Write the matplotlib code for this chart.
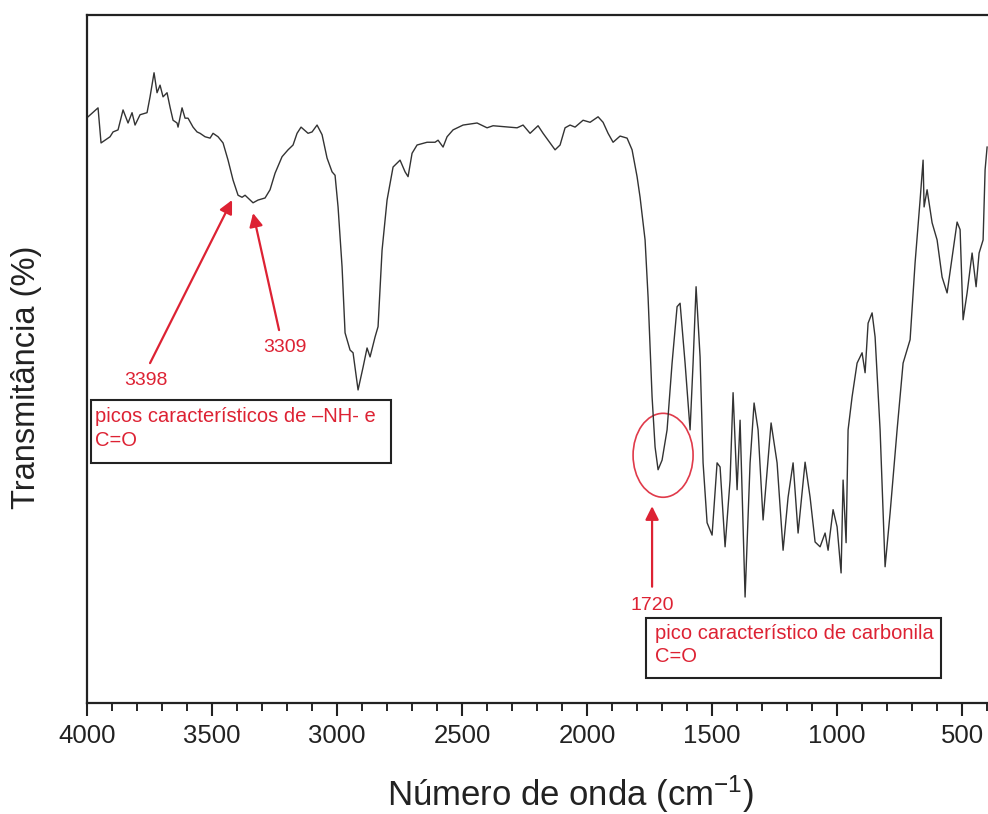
import matplotlib
matplotlib.use("Agg")
import matplotlib.pyplot as plt
from matplotlib.patches import Ellipse, Rectangle
from matplotlib.ticker import MultipleLocator

plt.rcParams['font.family'] = ['Liberation Sans', 'DejaVu Sans']
plt.rcParams['mathtext.default'] = 'regular'

# FTIR spectrum (wavenumber in cm-1, transmittance in %)
wavenumber = [3996, 3956, 3944, 3928, 3908, 3896, 3876, 3856, 3836, 3820, 3808, 3788,
              3760, 3748, 3732, 3720, 3708, 3696, 3680, 3668, 3656, 3640, 3636, 3620,
              3608, 3596, 3576, 3560, 3548, 3528, 3508, 3496, 3476, 3456, 3436, 3416,
              3396, 3380, 3368, 3348, 3336, 3316, 3288, 3268, 3248, 3220, 3196, 3176,
              3160, 3144, 3116, 3100, 3080, 3060, 3040, 3020, 3008, 2996, 2980, 2968,
              2948, 2936, 2916, 2896, 2880, 2868, 2848, 2836, 2820, 2800, 2776, 2748,
              2728, 2716, 2700, 2680, 2640, 2608, 2596, 2576, 2560, 2536, 2496, 2440,
              2400, 2376, 2280, 2256, 2228, 2196, 2176, 2148, 2128, 2108, 2088, 2068,
              2048, 2016, 1988, 1956, 1936, 1916, 1896, 1868, 1840, 1820, 1800, 1788,
              1768, 1756, 1740, 1728, 1716, 1700, 1680, 1660, 1640, 1628, 1608, 1588,
              1576, 1564, 1548, 1536, 1520, 1500, 1480, 1468, 1448, 1428, 1416, 1400,
              1388, 1368, 1348, 1332, 1316, 1296, 1264, 1240, 1216, 1196, 1176, 1156,
              1128, 1108, 1088, 1068, 1048, 1036, 1016, 1000, 984, 976, 964, 956,
              940, 920, 900, 888, 876, 860, 848, 828, 808, 788, 760, 736,
              708, 688, 668, 656, 652, 640, 620, 600, 580, 560, 540, 520,
              508, 496, 480, 460, 444, 432, 416, 408, 400]
transmittance = [85.2, 86.5, 81.4, 81.8, 82.3, 83.0, 83.3, 86.2, 84.3, 85.8, 84.0, 85.5,
                 85.8, 88.1, 91.6, 88.7, 89.8, 88.1, 88.7, 86.6, 84.7, 84.3, 83.7, 86.5,
                 85.0, 85.0, 83.7, 83.0, 82.8, 82.3, 82.1, 82.8, 82.3, 81.4, 78.9, 76.0,
                 73.8, 73.5, 73.8, 73.1, 72.7, 73.1, 73.4, 74.6, 77.0, 79.4, 80.4, 81.1,
                 82.8, 83.7, 82.8, 83.0, 84.0, 82.6, 79.2, 77.2, 76.7, 72.1, 63.4, 53.8,
                 51.3, 50.9, 45.5, 48.8, 51.6, 50.3, 53.2, 54.7, 65.8, 73.1, 77.9, 78.9,
                 77.2, 76.5, 79.9, 81.1, 81.5, 81.5, 81.8, 80.8, 82.3, 83.3, 84.0, 84.3,
                 83.6, 83.9, 83.6, 84.0, 82.8, 83.9, 82.8, 81.4, 80.4, 81.1, 83.6, 84.0,
                 83.7, 84.7, 84.4, 85.2, 84.4, 82.8, 81.5, 82.4, 82.1, 80.4, 76.5, 73.5,
                 67.3, 59.0, 44.5, 37.2, 33.9, 35.3, 39.7, 49.4, 57.6, 58.1, 49.4, 39.7,
                 49.4, 60.5, 50.3, 34.9, 26.2, 24.4, 34.9, 34.3, 22.7, 32.4, 45.1, 31.0,
                 41.1, 15.4, 34.9, 43.6, 39.7, 26.6, 40.7, 34.9, 22.2, 29.9, 34.9, 24.7,
                 35.0, 29.9, 23.4, 22.7, 24.7, 22.2, 28.1, 25.6, 18.9, 32.4, 23.3, 39.7,
                 44.5, 49.4, 50.9, 48.0, 55.2, 56.7, 53.2, 39.7, 19.8, 27.6, 39.7, 49.4,
                 52.8, 64.0, 73.1, 78.9, 72.1, 74.6, 69.8, 67.3, 61.9, 59.6, 64.8, 69.9,
                 68.8, 55.7, 59.6, 65.4, 60.5, 65.4, 67.3, 77.5, 80.8]

# annotated peaks: label, arrow tip, arrow tail, label position
peak_labels = ["3398", "3309", "1720"]
arrow_tips = [(3420, 73.1), (3336, 71.2), (1740, 28.6)]
arrow_tails = [(3748, 49.4), (3232, 54.2), (1740, 16.9)]
label_pos = [(3764, 46.8), (3208, 51.7), (1740, 14.2)]

box_texts = ["picos característicos de \u2013NH- e\nC=O",
             "pico característico de carbonila\nC=O"]

red = '#dd2233'

fig = plt.figure(figsize=(9.88, 8.14), dpi=100)
ax = fig.add_axes([0.0881, 0.1364, 0.912, 0.8452])

ax.plot(wavenumber, transmittance, color='#333333', lw=1.0)

ax.set_xlim(4000, 396)
ax.set_ylim(0, 100)
ax.xaxis.set_major_locator(MultipleLocator(500))
ax.xaxis.set_minor_locator(MultipleLocator(100))
ax.tick_params(axis='x', which='major', direction='out', length=9.5, width=1.5,
               labelsize=18.5, pad=6, colors='#222222')
ax.tick_params(axis='x', which='minor', direction='out', length=6, width=1.2)
ax.set_yticks([])
for s in ['left', 'bottom', 'top']:
    ax.spines[s].set_linewidth(1.6)
    ax.spines[s].set_color('#222222')
ax.spines['right'].set_visible(False)

for lab, tip, tail, pos in zip(peak_labels, arrow_tips, arrow_tails, label_pos):
    ax.annotate('', xy=tip, xytext=tail,
                arrowprops=dict(arrowstyle='-|>', color=red, lw=1.6,
                                mutation_scale=20, shrinkA=0, shrinkB=0))
    ax.text(pos[0], pos[1], lab, color=red, fontsize=14, ha='center', va='center')

ax.add_patch(Ellipse((1696, 36.0), 240, 12.2, fill=False, edgecolor='#e03a4a', lw=1.2))

# text boxes (axes fraction)
ax.add_patch(Rectangle((0.0044, 0.349), 0.3326, 0.091, transform=ax.transAxes,
                       fill=False, edgecolor='#222222', lw=1.5, clip_on=False))
ax.text(0.0089, 0.4157, box_texts[0].split('\n')[0], transform=ax.transAxes,
        color=red, fontsize=14.5, va='center')
ax.text(0.0089, 0.382, box_texts[0].split('\n')[1], transform=ax.transAxes,
        color=red, fontsize=14.5, va='center')

ax.add_patch(Rectangle((0.620, 0.0363), 0.328, 0.0872, transform=ax.transAxes,
                       fill=False, edgecolor='#222222', lw=1.5, clip_on=False))
ax.text(0.630, 0.1003, box_texts[1].split('\n')[0], transform=ax.transAxes,
        color=red, fontsize=14.5, va='center')
ax.text(0.630, 0.0669, box_texts[1].split('\n')[1], transform=ax.transAxes,
        color=red, fontsize=14.5, va='center')

fig.text(0.577, 0.0098, 'Número de onda (cm$^{-1}$)', fontsize=25, ha='center',
         va='baseline', color='#222222')
fig.text(0.027, 0.536, 'Transmitância (%)', fontsize=23.5, rotation=90,
         ha='center', va='center', color='#222222')

fig.savefig('out.png', dpi=100)
